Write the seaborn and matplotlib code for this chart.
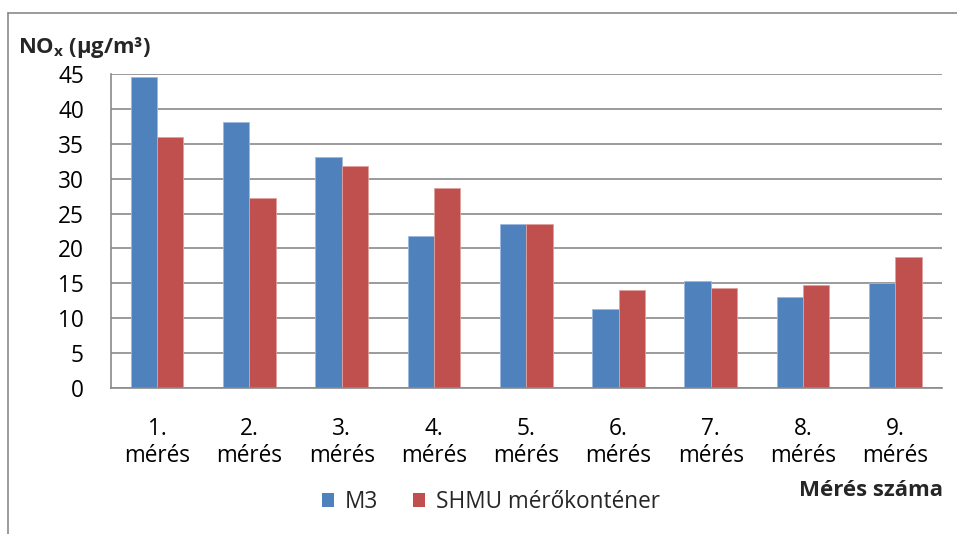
import matplotlib
matplotlib.use("Agg")
import matplotlib.pyplot as plt
from matplotlib.lines import Line2D
from matplotlib.patches import Patch
import seaborn as sns
import pandas as pd
import numpy as np

# Measurement rounds and NOx concentrations (µg/m³)
categories = ["1.\nmérés", "2.\nmérés", "3.\nmérés", "4.\nmérés", "5.\nmérés",
              "6.\nmérés", "7.\nmérés", "8.\nmérés", "9.\nmérés"]
series_names = ["M3", "SHMU mérőkonténer"]
m3_values = [44.6, 38.1, 33.1, 21.8, 23.5, 11.3, 15.3, 13.1, 15.1]
shmu_values = [36.0, 27.3, 31.8, 28.7, 23.5, 14.0, 14.3, 14.7, 18.8]
y_ticks = [0, 5, 10, 15, 20, 25, 30, 35, 40, 45]

colors = ["#4F81BD", "#C0504D"]
edge_colors = ["#9DB9DD", "#E0A09E"]
grid_color = "#8A8A8A"

df = pd.DataFrame({
    "category": categories * 2,
    "series": [series_names[0]] * len(categories) + [series_names[1]] * len(categories),
    "value": m3_values + shmu_values,
})

sns.set_theme(style="white")
plt.rcParams["font.family"] = ["Open Sans", "DejaVu Sans"]
plt.rcParams["mathtext.fontset"] = "custom"
plt.rcParams["mathtext.rm"] = "Open Sans"
plt.rcParams["mathtext.bf"] = "Open Sans:bold"
plt.rcParams["mathtext.it"] = "Open Sans:italic"

W, H = 957, 534
fig = plt.figure(figsize=(W / 100, H / 100), dpi=100)
fig.patch.set_facecolor("white")

left, right, top, bottom = 111, 941.5, 74, 388
ax = fig.add_axes([left / W, 1 - bottom / H, (right - left) / W, (bottom - top) / H])

sns.barplot(data=df, x="category", y="value", hue="series", order=categories,
            hue_order=series_names, palette=colors, width=0.571, gap=0,
            saturation=1, ax=ax, legend=False, errorbar=None)

for patch_group, ec in zip(ax.containers, edge_colors):
    for bar in patch_group:
        bar.set_edgecolor(ec)
        bar.set_linewidth(0.6)

ax.set_ylim(0, 45)
ax.set_xlim(-0.5, len(categories) - 0.5)
ax.set_yticks(y_ticks)
ax.set_yticklabels([str(v) for v in y_ticks])
ax.set_xlabel("")
ax.set_ylabel("")

# Horizontal gridlines behind the bars
ax.set_axisbelow(True)
ax.yaxis.grid(True, color=grid_color, linewidth=1.2)
ax.xaxis.grid(False)

for side in ["top", "right"]:
    ax.spines[side].set_visible(False)
for side in ["left", "bottom"]:
    ax.spines[side].set_color(grid_color)
    ax.spines[side].set_linewidth(1.2)

tick_fs = 16.3

# Category boundaries carry the tick marks; labels sit at the centres
ax.set_xticks(np.arange(-0.5, len(categories), 1.0), minor=True)
ax.tick_params(axis="x", which="major", length=0, pad=21, labelsize=tick_fs, colors="black")
ax.tick_params(axis="x", which="minor", length=6, width=1.2, color=grid_color, direction="out")
ax.tick_params(axis="y", which="major", length=6, width=1.2, color=grid_color,
               direction="out", pad=13.5, labelsize=tick_fs, labelcolor="black")
for lbl in ax.get_xticklabels():
    lbl.set_linespacing(1.15)

# Axis titles
fig.text(18 / W, 1 - 47 / H, r"$\mathbf{NO_x}$ (µg/m³)", fontsize=15.8,
         fontweight="bold", ha="left", va="center")
fig.text(943 / W, 1 - 490 / H, "Mérés száma", fontsize=16,
         fontweight="bold", ha="right", va="center")

# Legend
handles = [Patch(facecolor=c, edgecolor="none") for c in colors]
fig.legend(handles, series_names, loc="center left",
           bbox_to_anchor=(322 / W, 1 - 502 / H), ncol=2, frameon=False,
           fontsize=tick_fs, handlelength=0.52, handleheight=0.62, handletextpad=0.48,
           columnspacing=1.55, borderpad=0, borderaxespad=0)

# Chart-area border (top and left edges)
fig.add_artist(Line2D([8 / W, 1.0], [1 - 12.5 / H, 1 - 12.5 / H],
                      transform=fig.transFigure, color=grid_color, linewidth=1.2))
fig.add_artist(Line2D([8 / W, 8 / W], [1 - 12.5 / H, 0.0],
                      transform=fig.transFigure, color=grid_color, linewidth=1.2))

fig.savefig("out.png", dpi=100, facecolor="white")
